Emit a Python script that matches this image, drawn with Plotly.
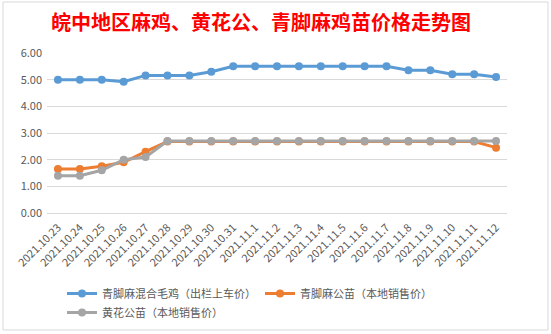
import plotly.graph_objects as go

dates = ["2021.10.23", "2021.10.24", "2021.10.25", "2021.10.26", "2021.10.27",
         "2021.10.28", "2021.10.29", "2021.10.30", "2021.10.31", "2021.11.1",
         "2021.11.2", "2021.11.3", "2021.11.4", "2021.11.5", "2021.11.6",
         "2021.11.7", "2021.11.8", "2021.11.9", "2021.11.10", "2021.11.11",
         "2021.11.12"]
mixed_chicken = [5.00, 5.00, 5.00, 4.92, 5.16, 5.16, 5.16, 5.30, 5.50, 5.50,
                 5.50, 5.50, 5.50, 5.50, 5.50, 5.50, 5.35, 5.35, 5.20, 5.20, 5.10]
qingjiao_chick = [1.65, 1.65, 1.75, 1.90, 2.30, 2.68, 2.68, 2.68, 2.68, 2.68,
                  2.68, 2.68, 2.68, 2.68, 2.68, 2.68, 2.68, 2.68, 2.68, 2.68, 2.45]
huanghua_chick = [1.40, 1.40, 1.60, 2.00, 2.10, 2.70, 2.70, 2.70, 2.70, 2.70,
                  2.70, 2.70, 2.70, 2.70, 2.70, 2.70, 2.70, 2.70, 2.70, 2.70, 2.70]
names = ["青脚麻混合毛鸡（出栏上车价）", "青脚麻公苗（本地销售价）", "黄花公苗（本地销售价）"]
colors = ["#5B9BD5", "#ED7D31", "#A5A5A5"]
y_ticks = [0, 1, 2, 3, 4, 5, 6]

font = "Noto Sans CJK SC, Microsoft YaHei, sans-serif"

fig = go.Figure()
for name, vals, c in zip(names, [mixed_chicken, qingjiao_chick, huanghua_chick], colors):
    fig.add_trace(go.Scatter(
        x=dates, y=vals, name=name, mode="lines+markers",
        line=dict(color=c, width=3),
        marker=dict(color=c, size=8),
    ))

W, H = 551, 334
L, R, T, B = 47, 44, 53, 121
pw, ph = W - L - R, H - T - B

def px_x(x):
    return (x - L) / pw

def px_y(y):
    return (H - B - y) / ph

fig.update_layout(
    width=W, height=H,
    margin=dict(l=L, r=R, t=T, b=B, pad=0, autoexpand=False),
    paper_bgcolor="white", plot_bgcolor="white",
    font=dict(family=font, color="#595959", size=11),
    title=dict(
        text="<b>皖中地区麻鸡、黄花公、青脚麻鸡苗价格走势图</b>",
        font=dict(family=font, size=20, color="#FF0000"),
        x=261 / W, xanchor="center", xref="container",
        y=1 - 23 / H, yanchor="middle", yref="container",
    ),
    showlegend=True,
    legend=dict(
        orientation="h", xref="container", yref="container",
        x=62 / W, xanchor="left", y=1 - 279 / H, yanchor="top",
        entrywidth=153, entrywidthmode="pixels",
        font=dict(family=font, size=11, color="#595959"),
        itemwidth=30, tracegroupgap=0,
        bgcolor="rgba(0,0,0,0)",
    ),
    xaxis=dict(
        type="category", tickangle=-45, showgrid=False, showline=False,
        ticks="", tickfont=dict(family=font, size=11, color="#595959"),
        range=[-0.5, len(dates) - 0.5], automargin=False,
        ticklabelstandoff=5,
    ),
    yaxis=dict(
        range=[0, 6], tickvals=y_ticks, tickformat=".2f",
        showgrid=True, gridcolor="#D9D9D9", gridwidth=1,
        zeroline=True, zerolinecolor="#D9D9D9", zerolinewidth=1,
        showline=False, ticks="", ticklen=0, automargin=False,
        tickfont=dict(family=font, size=11, color="#595959"),
        ticklabelstandoff=4,
    ),
    shapes=[
        dict(type="rect", xref="paper", yref="paper",
             x0=px_x(3), x1=px_x(548), y0=px_y(330), y1=px_y(2),
             line=dict(color="#D9D9D9", width=1), fillcolor="rgba(0,0,0,0)",
             layer="below"),
    ],
)

fig.write_html("out.html")
